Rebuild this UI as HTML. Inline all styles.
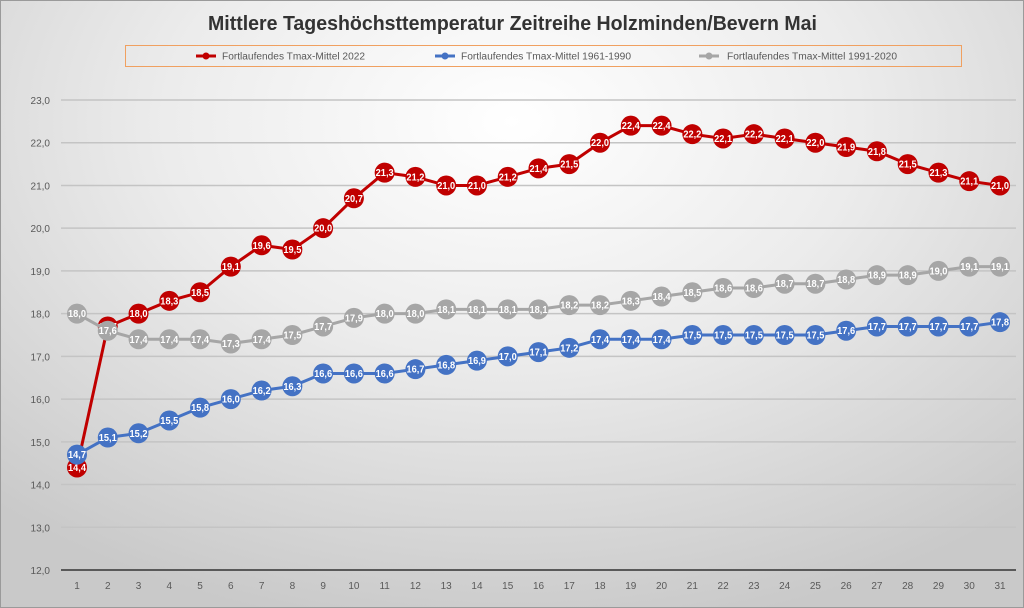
<!DOCTYPE html>
<html><head><meta charset="utf-8">
<style>
html,body{margin:0;padding:0;width:1024px;height:608px;overflow:hidden}
body{background:radial-gradient(ellipse 75% 85% at 50% 20%,#ffffff 0%,#ececec 45%,#c9c9c9 100%);font-family:"Liberation Sans",sans-serif}
</style></head><body>
<svg id="chart" width="1024" height="608" xmlns="http://www.w3.org/2000/svg" style="position:absolute;left:0;top:0">
<rect x="0.5" y="0.5" width="1023" height="607" fill="none" stroke="#9a9a9a"/>
<text x="208" y="30" textLength="609" lengthAdjust="spacingAndGlyphs" font-size="20" font-weight="bold" fill="#333333">Mittlere Tageshöchsttemperatur Zeitreihe Holzminden/Bevern Mai</text>
<g>
<rect x="125.5" y="45.5" width="836" height="21" fill="none" stroke="#f0a060"/>
</g>
<g id="grid"></g><g id="series"></g>
</svg>
<script>
const days=[1,2,3,4,5,6,7,8,9,10,11,12,13,14,15,16,17,18,19,20,21,22,23,24,25,26,27,28,29,30,31];
const red=[14.4,17.7,18.0,18.3,18.5,19.1,19.6,19.5,20.0,20.7,21.3,21.2,21.0,21.0,21.2,21.4,21.5,22.0,22.4,22.4,22.2,22.1,22.2,22.1,22.0,21.9,21.8,21.5,21.3,21.1,21.0];
const blue=[14.7,15.1,15.2,15.5,15.8,16.0,16.2,16.3,16.6,16.6,16.6,16.7,16.8,16.9,17.0,17.1,17.2,17.4,17.4,17.4,17.5,17.5,17.5,17.5,17.5,17.6,17.7,17.7,17.7,17.7,17.8];
const gray=[18.0,17.6,17.4,17.4,17.4,17.3,17.4,17.5,17.7,17.9,18.0,18.0,18.1,18.1,18.1,18.1,18.2,18.2,18.3,18.4,18.5,18.6,18.6,18.7,18.7,18.8,18.9,18.9,19.0,19.1,19.1];
const yTicks=[12,13,14,15,16,17,18,19,20,21,22,23];
const seriesNames=["Fortlaufendes Tmax-Mittel 2022","Fortlaufendes Tmax-Mittel 1961-1990","Fortlaufendes Tmax-Mittel 1991-2020"];

const NS="http://www.w3.org/2000/svg";
const X=d=>77+(d-1)*(1000-77)/30;
const Y=v=>570-(v-12)*(570-100)/11;
const fmt=v=>v.toFixed(1).replace('.',',');
function mk(tag,attrs,parent){const e=document.createElementNS(NS,tag);for(const k in attrs)e.setAttribute(k,attrs[k]);parent.appendChild(e);return e;}
const svg=document.getElementById('chart');
const grid=document.getElementById('grid');
const ser=document.getElementById('series');

yTicks.forEach(t=>{
  const l=mk('line',{x1:61,x2:1016,y1:Y(t),y2:Y(t),stroke:t===12?'#595959':'#c4c4c4','stroke-width':t===12?2:1.5},grid);
  
  
  const tx=mk('text',{x:50,y:Y(t)+4,'text-anchor':'end','font-size':10,fill:'#595959'},grid);
  tx.textContent=fmt(t);
  
  
});
days.forEach(d=>{
  const tx=mk('text',{x:X(d),y:589,'text-anchor':'middle','font-size':10,fill:'#595959'},grid);
  tx.textContent=d;
  
  
});

const colors=["#c00000","#4472c4","#a6a6a6"];
const lp=[[196,222,143],[435,461,170],[699,727,170]];
[0,1,2].forEach(i=>{
  const g=mk('g',{},svg);
  
  
  mk('line',{x1:lp[i][0],x2:lp[i][0]+20,y1:56,y2:56,stroke:colors[i],'stroke-width':3},g);
  mk('circle',{cx:lp[i][0]+10,cy:56,r:3.5,fill:colors[i]},g);
  const t=mk('text',{x:lp[i][1],y:59.5,'font-size':10,fill:'#595959',textLength:lp[i][2],lengthAdjust:'spacingAndGlyphs'},g);
  t.textContent=seriesNames[i];
});

function drawSeries(vals,color,name){
  const g=mk('g',{},ser);
  
  
  const pl=mk('polyline',{points:vals.map((v,i)=>X(days[i])+','+Y(v)).join(' '),fill:'none',stroke:color,'stroke-width':3,'stroke-linejoin':'round'},g);
  
  
  vals.forEach((v,i)=>{
    const c=mk('circle',{cx:X(days[i]),cy:Y(v),r:10,fill:color},g);
    
    
    const t=mk('text',{x:X(days[i]),y:Y(v)+3.5,'text-anchor':'middle','font-size':10,'font-weight':'bold',fill:'#ffffff',textLength:18,lengthAdjust:'spacingAndGlyphs'},g);
    t.textContent=fmt(v);
    
    
  });
}
drawSeries(red,'#c00000','series-2022');
drawSeries(blue,'#4472c4','series-1961-1990');
drawSeries(gray,'#a6a6a6','series-1991-2020');
</script>
</body></html>
